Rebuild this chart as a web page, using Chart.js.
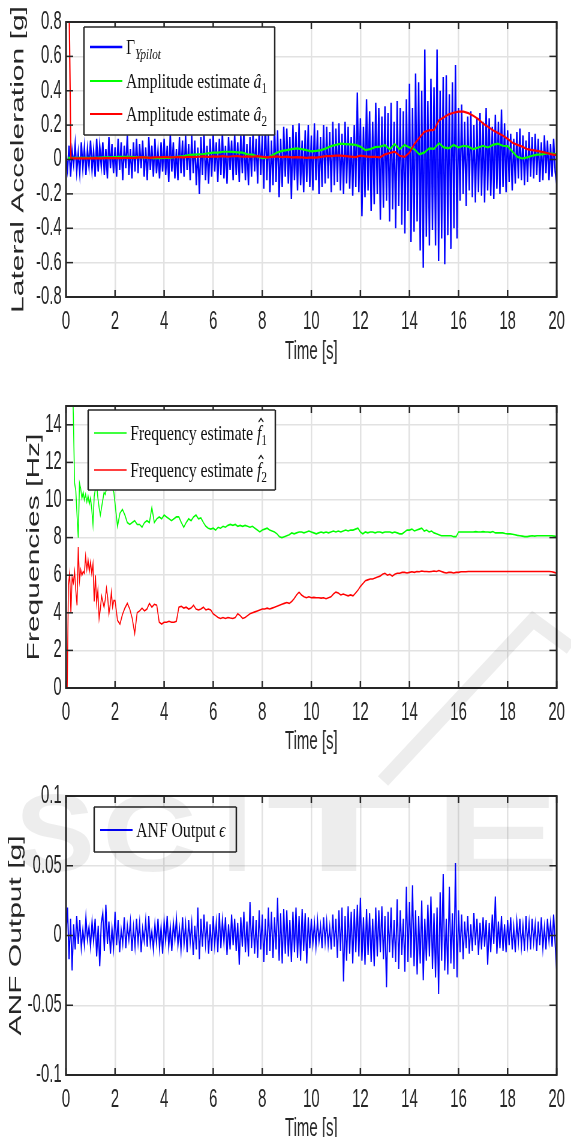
<!DOCTYPE html>
<html lang="en">
<head>
<meta charset="UTF-8">
<title>ANF estimates</title>
<script src="https://cdn.jsdelivr.net/npm/chart.js@4/dist/chart.umd.min.js"></script>
<style>
  html, body { margin: 0; padding: 0; background: #fff; overflow: hidden; }
  canvas { display: block; }
  #mark { position: absolute; left: 0; top: 0; pointer-events: none; }
</style>
</head>
<body>
<!-- the figure is squeezed sideways, so each canvas is drawn wide and shown at 571px -->
<canvas id="accChart" width="952" height="380" style="width:571px;height:380px"></canvas>
<canvas id="freqChart" width="952" height="385" style="width:571px;height:385px"></canvas>
<canvas id="anfChart" width="952" height="385" style="width:571px;height:385px"></canvas>
<canvas id="mark" width="571" height="1137"></canvas>

<script>
// ---- data ----
// lateral acceleration, one line per second, 16 samples per second
var accPilot = [
  0.02,-0.06,0.08,-0.10,0.05,-0.03,0.09,-0.07,0.04,-0.08,0.10,-0.05,0.07,-0.09,0.06,-0.04,
  0.11,-0.06,0.05,-0.10,0.12,-0.07,0.08,-0.04,0.10,-0.09,0.06,-0.11,0.13,-0.05,0.09,-0.08,
  0.07,-0.10,0.12,-0.06,0.10,-0.12,0.08,-0.05,0.14,-0.09,0.06,-0.11,0.10,-0.07,0.12,-0.08,
  0.09,-0.05,0.11,-0.10,0.07,-0.12,0.13,-0.06,0.08,-0.10,0.12,-0.08,0.05,-0.11,0.10,-0.07,
  0.12,-0.09,0.08,-0.13,0.15,-0.07,0.10,-0.11,0.06,-0.12,0.13,-0.08,0.11,-0.10,0.14,-0.06,
  0.09,-0.12,0.14,-0.08,0.11,-0.15,0.07,-0.20,0.13,-0.09,0.16,-0.12,0.08,-0.14,0.12,-0.10,
  0.15,-0.07,0.10,-0.13,0.12,-0.09,0.16,-0.11,0.08,-0.14,0.13,-0.06,0.11,-0.12,0.15,-0.09,
  0.10,-0.13,0.14,-0.08,0.17,-0.12,0.09,-0.15,0.13,-0.10,0.16,-0.07,0.12,-0.14,0.18,-0.09,
  0.14,-0.17,0.25,-0.12,0.16,-0.19,0.11,-0.15,0.20,-0.13,0.17,-0.22,0.12,-0.16,0.19,-0.10,
  0.18,-0.14,0.13,-0.23,0.20,-0.12,0.16,-0.18,0.21,-0.15,0.11,-0.19,0.17,-0.13,0.20,-0.16,
  0.14,-0.18,0.21,-0.12,0.17,-0.20,0.13,-0.16,0.20,-0.14,0.19,-0.11,0.16,-0.19,0.22,-0.15,
  0.18,-0.13,0.21,-0.18,0.15,-0.20,0.22,-0.14,0.19,-0.17,0.13,-0.21,0.20,-0.16,0.39,-0.19,
  0.24,-0.33,0.19,-0.22,0.35,-0.18,0.28,-0.30,0.22,-0.26,0.33,-0.20,0.30,-0.35,0.25,-0.28,
  0.31,-0.24,0.27,-0.36,0.33,-0.29,0.22,-0.40,0.34,-0.27,0.30,-0.38,0.28,-0.43,0.35,-0.30,
  0.44,-0.48,0.30,-0.42,0.50,-0.36,0.45,-0.53,0.40,-0.63,0.64,-0.45,0.34,-0.50,0.47,-0.41,
  0.42,-0.50,0.64,-0.59,0.40,-0.46,0.48,-0.61,0.49,-0.44,0.38,-0.52,0.45,-0.40,0.55,-0.46,
  0.30,-0.24,0.32,-0.20,0.22,-0.27,0.25,-0.18,0.28,-0.22,0.20,-0.25,0.24,-0.19,0.27,-0.21,
  0.22,-0.25,0.30,-0.18,0.24,-0.21,0.19,-0.23,0.26,-0.17,0.22,-0.20,0.29,-0.16,0.21,-0.19,
  0.17,-0.13,0.15,-0.18,0.12,-0.14,0.16,-0.11,0.18,-0.12,0.14,-0.15,0.11,-0.13,0.16,-0.10,
  0.13,-0.11,0.15,-0.09,0.12,-0.13,0.10,-0.12,0.14,-0.08,0.11,-0.12,0.09,-0.10,0.12,-0.07,
  -0.14
];

// amplitude estimates: first sample at 0.08 s, then every 0.2 s (one line per second)
var ampA1 = [
  0.01,
  0.01,0.01,0.01,0.01,0.01,
  0.01,0.011,0.012,0.013,0.014,
  0.015,0.016,0.015,0.014,0.013,
  0.012,0.01,0.008,0.008,0.009,
  0.01,0.013,0.017,0.02,0.025,
  0.028,0.03,0.032,0.036,0.04,
  0.04,0.045,0.045,0.044,0.042,
  0.04,0.03,0.028,0.018,0.008,
  0.01,0.025,0.04,0.05,0.055,
  0.06,0.065,0.06,0.055,0.047,
  0.05,0.055,0.065,0.078,0.085,
  0.092,0.09,0.088,0.085,0.075,
  0.055,0.06,0.072,0.075,0.083,
  0.06,0.09,0.06,0.085,0.07,
  0.06,0.03,0.04,0.065,0.062,
  0.095,0.07,0.065,0.085,0.07,
  0.08,0.075,0.06,0.07,0.08,
  0.07,0.085,0.092,0.08,0.078,
  0.045,0.015,0.006,0.012,0.022,
  0.028,0.03,0.035,0.035,0.03
];
var ampA2 = [
  1.5,
  0.008,0.006,0.006,0.006,0.007,
  0.008,0.007,0.008,0.008,0.008,
  0.008,0.01,0.01,0.01,0.012,
  0.012,0.01,0.012,0.013,0.014,
  0.013,0.013,0.014,0.012,0.016,
  0.014,0.016,0.018,0.015,0.018,
  0.017,0.02,0.016,0.019,0.02,
  0.016,0.018,0.016,0.02,0.016,
  0.012,0.015,0.018,0.014,0.017,
  0.012,0.014,0.012,0.01,0.012,
  0.011,0.015,0.02,0.02,0.022,
  0.022,0.02,0.017,0.014,0.022,
  0.018,0.015,0.016,0.013,0.03,
  0.038,0.046,0.022,0.015,0.04,
  0.09,0.126,0.16,0.17,0.172,
  0.227,0.245,0.263,0.272,0.278,
  0.278,0.27,0.255,0.235,0.21,
  0.19,0.17,0.155,0.14,0.12,
  0.097,0.085,0.075,0.06,0.055,
  0.05,0.044,0.038,0.03,0.025
];

// frequency estimates: 0 - 1.95 s every 0.05 s, then 2.0 - 20.0 s every 0.1 s
var freqF1 = [
  18,22,25,24,21,17,14.5,10.9,10.5,9.2,8.0,10.9,10.6,10.1,10.4,10.0,10.3,9.9,10.2,9.8,
  10.1,9.5,8.7,10.2,10.6,10.8,10.1,9.6,9.2,9.6,10.0,10.4,10.3,10.6,10.8,11.2,11.0,10.8,10.6,10.4,
  9.8,8.6,9.3,9.5,9.2,8.8,8.7,8.8,8.9,8.7,
  8.7,8.55,8.8,8.9,8.8,9.6,8.8,9.0,9.1,9.0,
  9.2,9.1,9.0,8.9,9.0,9.1,9.1,8.8,8.55,8.8,
  9.0,8.9,9.1,9.2,9.0,9.05,8.8,8.6,8.5,8.45,
  8.5,8.4,8.55,8.5,8.6,8.55,8.65,8.7,8.65,8.7,
  8.6,8.65,8.6,8.65,8.6,8.55,8.6,8.5,8.4,8.3,
  8.4,8.45,8.5,8.4,8.35,8.3,8.2,8.05,8.0,8.05,
  8.1,8.15,8.25,8.2,8.25,8.3,8.3,8.25,8.3,8.35,
  8.3,8.25,8.2,8.25,8.3,8.25,8.3,8.25,8.3,8.35,
  8.3,8.35,8.3,8.35,8.4,8.35,8.4,8.4,8.45,8.5,
  8.3,8.2,8.3,8.25,8.3,8.3,8.25,8.3,8.3,8.25,
  8.3,8.3,8.3,8.25,8.3,8.25,8.2,8.2,8.3,8.4,
  8.4,8.45,8.35,8.4,8.45,8.5,8.35,8.4,8.3,8.35,
  8.25,8.2,8.15,8.1,8.1,8.1,8.1,8.1,8.05,8.05,
  8.3,8.3,8.3,8.3,8.3,8.3,8.3,8.32,8.3,8.3,
  8.32,8.3,8.3,8.28,8.32,8.25,8.25,8.25,8.25,8.22,
  8.2,8.2,8.18,8.15,8.12,8.1,8.08,8.05,8.05,8.08,
  8.1,8.08,8.1,8.1,8.1,8.1,8.1,8.1,8.1,8.08,
  8.05
];
var freqF2 = [
  0,0,5.5,6.1,4.0,5.9,5.6,6.2,5.2,4.4,7.5,5.7,6.3,6.0,6.2,6.1,7.0,6.3,6.8,6.2,
  6.7,6.1,6.6,4.6,6.0,4.5,5.2,3.7,4.2,4.9,4.6,4.3,4.7,5.3,4.8,3.95,4.4,5.1,4.3,4.65,
  4.65,3.6,3.4,3.9,4.25,4.5,4.2,3.7,2.9,4.0,
  4.1,4.25,4.1,4.2,4.5,4.3,4.45,4.4,3.5,3.4,
  3.5,3.5,3.55,3.5,3.5,3.55,4.3,4.35,4.25,4.3,
  4.2,4.25,4.4,4.2,4.15,4.2,4.3,4.15,4.2,4.15,
  3.95,3.85,3.75,3.7,3.75,3.7,3.75,3.72,3.7,3.75,
  3.95,3.85,3.7,3.75,3.85,3.95,4.0,4.05,4.1,4.15,
  4.2,4.2,4.25,4.2,4.25,4.3,4.35,4.4,4.45,4.5,
  4.55,4.5,4.6,4.75,4.95,5.1,4.95,4.85,4.8,4.85,
  4.8,4.82,4.8,4.8,4.78,4.8,4.75,4.8,4.85,5.0,
  5.1,5.05,4.95,5.0,4.95,4.9,4.95,4.9,5.05,5.2,
  5.4,5.55,5.7,5.75,5.8,5.8,5.85,5.9,5.95,6.05,
  6.1,6.0,6.05,5.95,6.05,6.1,6.1,6.15,6.15,6.12,
  6.15,6.18,6.15,6.2,6.18,6.22,6.2,6.2,6.18,6.2,
  6.22,6.2,6.25,6.2,6.15,6.12,6.15,6.15,6.12,6.15,
  6.15,6.18,6.18,6.18,6.2,6.2,6.2,6.2,6.2,6.2,
  6.2,6.2,6.2,6.2,6.2,6.2,6.2,6.2,6.2,6.2,
  6.2,6.2,6.2,6.2,6.2,6.2,6.2,6.2,6.2,6.2,
  6.2,6.2,6.2,6.2,6.2,6.2,6.2,6.2,6.18,6.15,
  6.1
];

// ANF output, one line per second, 16 samples per second
var anfOut = [
  0.000,0.020,-0.017,0.012,-0.025,0.008,-0.010,0.014,-0.006,0.011,-0.009,0.004,-0.007,0.013,-0.003,0.006,
  -0.008,0.010,-0.004,0.012,-0.015,0.007,-0.022,0.009,0.016,-0.011,0.022,-0.006,0.010,-0.013,0.005,-0.009,
  0.017,-0.007,0.011,-0.012,0.004,-0.006,0.013,-0.009,0.007,-0.003,0.010,-0.011,0.006,-0.008,0.012,-0.005,
  0.009,-0.012,0.005,-0.004,0.011,-0.008,0.014,-0.006,0.003,-0.010,0.008,-0.005,0.012,-0.009,0.006,-0.013,
  0.010,-0.004,0.014,-0.008,0.006,-0.011,0.009,-0.003,0.012,-0.007,0.005,-0.010,0.013,-0.006,0.008,-0.012,
  0.011,-0.005,0.009,-0.014,0.007,-0.010,0.020,-0.017,0.012,-0.008,0.015,-0.006,0.010,-0.013,0.008,-0.011,
  0.014,-0.007,0.009,-0.012,0.016,-0.009,0.011,-0.005,0.013,-0.014,0.008,-0.010,0.015,-0.007,0.012,-0.011,
  0.009,-0.021,0.013,-0.008,0.017,-0.012,0.010,-0.015,0.024,-0.009,0.014,-0.013,0.011,-0.016,0.018,-0.010,
  0.015,-0.019,0.012,-0.014,0.020,-0.011,0.017,-0.016,0.013,-0.010,0.027,-0.018,0.016,-0.020,0.019,-0.013,
  0.018,-0.015,0.011,-0.019,0.017,-0.012,0.020,-0.016,0.014,-0.018,0.019,-0.011,0.016,-0.020,0.013,-0.009,
  0.012,-0.006,0.009,-0.008,0.011,-0.004,0.007,-0.009,0.013,-0.005,0.010,-0.007,0.006,-0.010,0.015,-0.008,
  0.012,-0.016,0.018,-0.011,0.020,-0.033,0.014,-0.018,0.021,-0.013,0.017,-0.020,0.019,-0.012,0.022,-0.015,
  0.027,-0.018,0.013,-0.021,0.019,-0.014,0.016,-0.019,0.012,-0.022,0.020,-0.015,0.018,-0.012,0.021,-0.017,
  0.014,-0.037,0.017,-0.012,0.020,-0.016,0.011,-0.019,0.026,-0.024,0.018,-0.014,0.012,-0.026,0.035,-0.019,
  0.024,-0.016,0.036,-0.022,0.018,-0.028,0.014,-0.020,0.025,-0.032,0.012,-0.018,0.022,-0.015,0.028,-0.024,
  0.016,-0.030,0.020,-0.042,0.031,-0.018,0.044,-0.025,0.012,-0.028,0.035,-0.020,0.016,-0.024,0.052,-0.030,
  0.018,-0.012,0.015,-0.017,0.010,-0.009,0.014,-0.013,0.008,-0.011,0.016,-0.007,0.012,-0.014,0.009,-0.010,
  0.013,-0.008,0.011,-0.021,0.009,-0.012,0.015,-0.006,0.028,-0.013,0.010,-0.009,0.014,-0.011,0.008,-0.012,
  0.011,-0.007,0.013,-0.010,0.006,-0.012,0.010,-0.005,0.012,-0.008,0.007,-0.011,0.014,-0.006,0.009,-0.010,
  0.012,-0.005,0.008,-0.011,0.010,-0.007,0.013,-0.009,0.006,-0.010,0.012,-0.004,0.009,-0.008,0.015,-0.006,
  -0.025
];

// tick labels
var timeTicks = [0, 2, 4, 6, 8, 10, 12, 14, 16, 18, 20];
var accTicks = [-0.8, -0.6, -0.4, -0.2, 0, 0.2, 0.4, 0.6, 0.8];
var freqTicks = [0, 2, 4, 6, 8, 10, 12, 14];
var anfTicks = [-0.1, -0.05, 0, 0.05, 0.1];

// sample times
var accTime = accPilot.map(function (v, i) { return i / 16; });
var anfTime = anfOut.map(function (v, i) { return i / 16; });
var ampTime = ampA1.map(function (v, i) { return i === 0 ? 0.08 : +(0.2 * i).toFixed(1); });
var freqTime = freqF1.map(function (v, i) { return i < 40 ? +(0.05 * i).toFixed(2) : +(2 + 0.1 * (i - 40)).toFixed(1); });

function pts(t, v) { return v.map(function (y, i) { return { x: t[i], y: y }; }); }

// ---- look ----
var SANS = "'Liberation Sans', Arial, sans-serif";
var SERIF = "'Liberation Serif', 'DejaVu Serif', serif";
var INK = '#262626';
var GRID = '#e2e2e2';

function line(ctx, x1, y1, x2, y2) {
  ctx.beginPath(); ctx.moveTo(x1, y1); ctx.lineTo(x2, y2); ctx.stroke();
}

// axes box with inward ticks, matlab style
var frame = {
  id: 'frame',
  afterDatasetsDraw: function (chart) {
    var ctx = chart.ctx, a = chart.chartArea, xs = chart.scales.x, ys = chart.scales.y;
    ctx.save();
    ctx.strokeStyle = INK;
    ctx.lineWidth = 2.5;
    xs.ticks.forEach(function (t) {
      var px = xs.getPixelForValue(t.value);
      line(ctx, px, a.bottom, px, a.bottom - 7);
      line(ctx, px, a.top, px, a.top + 7);
    });
    ctx.lineWidth = 1.5;
    ys.ticks.forEach(function (t) {
      var py = ys.getPixelForValue(t.value);
      line(ctx, a.left, py, a.left + 12, py);
      line(ctx, a.right, py, a.right - 12, py);
    });
    ctx.lineWidth = 2;
    line(ctx, a.left, a.top, a.right, a.top);
    line(ctx, a.left, a.bottom, a.right, a.bottom);
    ctx.lineWidth = 3;
    line(ctx, a.left, a.top - 1, a.left, a.bottom + 1);
    line(ctx, a.right, a.top - 1, a.right, a.bottom + 1);
    ctx.restore();
  }
};

// text runs for the latex style legend labels
function drawRuns(ctx, x, base, runs, sx) {
  ctx.save();
  ctx.translate(x, base);
  ctx.scale(sx, 1);
  ctx.fillStyle = '#111';
  ctx.textBaseline = 'alphabetic';
  var cx = 0;
  runs.forEach(function (r) {
    var sub = r.style === 'sub' || r.style === 'subit';
    var it = r.style === 'it' || r.style === 'subit';
    ctx.font = (it ? 'italic ' : '') + (sub ? 15 : 21) + 'px ' + SERIF;
    ctx.fillText(r.text, cx, sub ? 5 : 0);
    var w = ctx.measureText(r.text).width;
    if (r.hat) {
      ctx.strokeStyle = '#111';
      ctx.lineWidth = 1.2;
      var hx = cx + w / 2 + 2.5;
      ctx.beginPath();
      ctx.moveTo(hx - 3.2, -18); ctx.lineTo(hx, -21.5); ctx.lineTo(hx + 3.2, -18);
      ctx.stroke();
    }
    cx += w + (sub ? 1 : 0);
  });
  ctx.restore();
}

var boxLegend = {
  id: 'boxLegend',
  afterDraw: function (chart, args, o) {
    if (!o.rows) return;
    var ctx = chart.ctx, a = chart.chartArea;
    var x0 = a.left + o.left, y0 = a.top + o.top;
    ctx.save();
    ctx.fillStyle = '#fff';
    ctx.fillRect(x0, y0, o.width, o.height);
    ctx.strokeStyle = INK;
    ctx.lineWidth = 1.5;
    line(ctx, x0, y0, x0 + o.width, y0);
    line(ctx, x0, y0 + o.height, x0 + o.width, y0 + o.height);
    ctx.lineWidth = 2.5;
    line(ctx, x0, y0, x0, y0 + o.height);
    line(ctx, x0 + o.width, y0, x0 + o.width, y0 + o.height);
    o.rows.forEach(function (r) {
      var ds = chart.data.datasets[r.dataset];
      var cy = y0 + r.y;
      ctx.strokeStyle = ds.borderColor;
      ctx.lineWidth = ds.borderWidth;
      line(ctx, x0 + 10, cy, x0 + 64, cy);
      drawRuns(ctx, x0 + 70, cy + 7, r.runs, 1.25);
    });
    ctx.restore();
  }
};

function tickLabel(v) { return String(Number(Number(v).toFixed(4))); }
function fixTicks(list) {
  return function (s) { s.ticks = list.map(function (v) { return { value: v }; }); };
}

function axes(o) {
  return {
    x: {
      type: 'linear', min: 0, max: 20,
      afterFit: function (s) { s.height = o.xHeight; },
      afterBuildTicks: fixTicks(timeTicks),
      ticks: { padding: o.xPad, color: INK, font: { family: SANS, size: 25 }, maxRotation: 0, autoSkip: false, callback: tickLabel },
      grid: { color: GRID, lineWidth: 2.5, drawTicks: false },
      border: { display: false },
      title: { display: true, text: 'Time [s]', color: INK, font: { family: SANS, size: 25 }, padding: { top: 0, bottom: o.titlePad } }
    },
    y: {
      min: o.min, max: o.max,
      afterFit: function (s) { s.width = 110; },
      afterBuildTicks: fixTicks(o.ticks),
      ticks: { padding: 7, color: INK, font: { family: SANS, size: 25 }, autoSkip: false, callback: tickLabel },
      grid: { color: GRID, lineWidth: 1.5, drawTicks: false },
      border: { display: false },
      title: { display: true, text: o.yTitle, color: INK, font: { family: SANS, size: 30 }, padding: { top: o.yTitlePad, bottom: 0 } }
    }
  };
}

function base(padTop, scales, legend) {
  return {
    responsive: false,
    animation: false,
    events: [],
    layout: { padding: { top: padTop, right: 15, left: 0, bottom: 0 } },
    elements: { point: { radius: 0 }, line: { tension: 0 } },
    scales: scales,
    plugins: { legend: { display: false }, tooltip: { enabled: false }, boxLegend: legend }
  };
}

// lateral acceleration and amplitude estimates
new Chart(document.getElementById('accChart'), {
  type: 'line',
  data: {
    datasets: [
      { label: 'Gamma Y pilot', data: pts(accTime, accPilot), borderColor: '#0000ff', borderWidth: 2.4, order: 2 },
      { label: 'Amplitude estimate a1', data: pts(ampTime, ampA1), borderColor: '#00ff00', borderWidth: 2.2, order: 1 },
      { label: 'Amplitude estimate a2', data: pts(ampTime, ampA2), borderColor: '#ff0000', borderWidth: 2.2, order: 0 }
    ]
  },
  options: base(17,
    axes({ min: -0.8, max: 0.8, ticks: accTicks, yTitle: 'Lateral Acceleration [g]', yTitlePad: 13, xHeight: 83, xPad: 10, titlePad: 13 }),
    { left: 30, top: 5, width: 318, height: 108, rows: [
      { dataset: 0, y: 20, runs: [{ text: 'Γ' }, { text: 'Ypilot', style: 'subit' }] },
      { dataset: 1, y: 54, runs: [{ text: 'Amplitude estimate ' }, { text: 'â', style: 'it' }, { text: '1', style: 'sub' }] },
      { dataset: 2, y: 87, runs: [{ text: 'Amplitude estimate ' }, { text: 'â', style: 'it' }, { text: '2', style: 'sub' }] }
    ] }),
  plugins: [frame, boxLegend]
});

// frequency estimates
new Chart(document.getElementById('freqChart'), {
  type: 'line',
  data: {
    datasets: [
      { label: 'Frequency estimate f1', data: pts(freqTime, freqF1), borderColor: '#00ff00', borderWidth: 1.6 },
      { label: 'Frequency estimate f2', data: pts(freqTime, freqF2), borderColor: '#ff0000', borderWidth: 1.6 }
    ]
  },
  options: base(26,
    axes({ min: 0, max: 15, ticks: freqTicks, yTitle: 'Frequencies [Hz]', yTitlePad: 39, xHeight: 77, xPad: 10, titlePad: 8 }),
    { left: 37, top: 4, width: 312, height: 80, rows: [
      { dataset: 0, y: 23, runs: [{ text: 'Frequency estimate ' }, { text: 'f', style: 'it', hat: true }, { text: '1', style: 'sub' }] },
      { dataset: 1, y: 60, runs: [{ text: 'Frequency estimate ' }, { text: 'f', style: 'it', hat: true }, { text: '2', style: 'sub' }] }
    ] }),
  plugins: [frame, boxLegend]
});

// notch filter output
new Chart(document.getElementById('anfChart'), {
  type: 'line',
  data: {
    datasets: [
      { label: 'ANF Output', data: pts(anfTime, anfOut), borderColor: '#0000ff', borderWidth: 2 }
    ]
  },
  options: base(31,
    axes({ min: -0.1, max: 0.1, ticks: anfTicks, yTitle: 'ANF Output [g]', yTitlePad: 9, xHeight: 75, xPad: 10, titlePad: 6 }),
    { left: 47, top: 11, width: 237, height: 45, rows: [
      { dataset: 0, y: 23, runs: [{ text: 'ANF Output ' }, { text: 'ϵ', style: 'it' }] }
    ] }),
  plugins: [frame, boxLegend]
});

// faint publisher watermark laid over the lower panels
(function () {
  var ctx = document.getElementById('mark').getContext('2d');
  ctx.fillStyle = 'rgba(0,0,0,0.07)';
  ctx.strokeStyle = 'rgba(0,0,0,0.07)';
  ctx.font = 'bold 100px ' + SANS;
  ctx.textBaseline = 'alphabetic';
  [['S', 15, 95], ['C', 102, 197], ['I', 222, 252], ['T', 266, 412], ['E', 434, 560]].forEach(function (l) {
    var w = ctx.measureText(l[0]).width;
    ctx.save();
    ctx.translate(l[1], 871);
    ctx.scale((l[2] - l[1]) / w, 79 / 72);
    ctx.fillText(l[0], 0, 0);
    ctx.restore();
  });
  ctx.lineWidth = 14;
  ctx.beginPath();
  ctx.moveTo(571, 648); ctx.lineTo(533, 620); ctx.lineTo(383, 781);
  ctx.stroke();
})();
</script>
</body>
</html>
